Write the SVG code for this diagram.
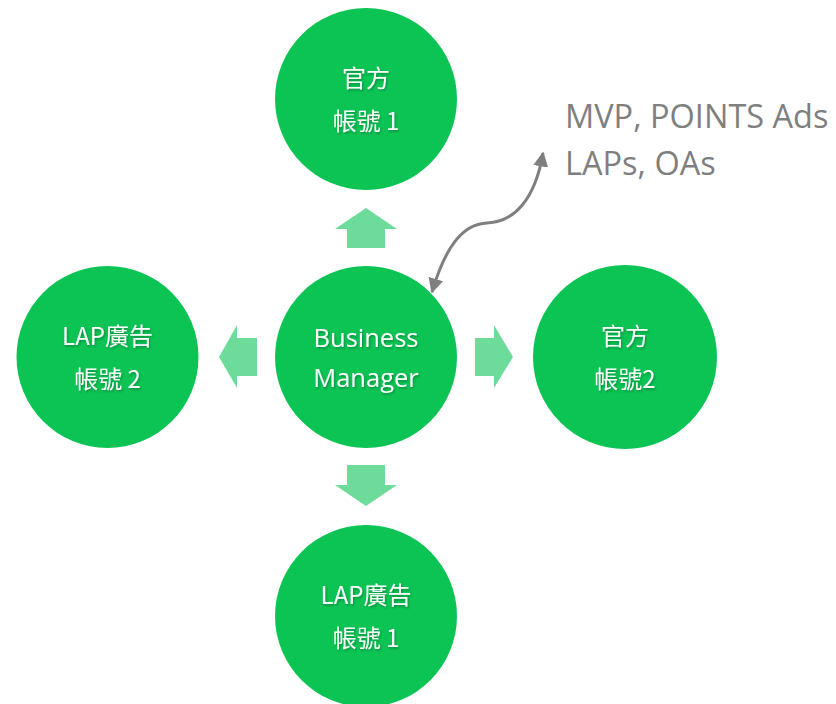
<svg xmlns="http://www.w3.org/2000/svg" width="836" height="704" viewBox="0 0 836 704">
<defs>
<style>
.node{fill:#0bc454}
.lbl{fill:#ffffff;font-family:"Noto Sans CJK TC",sans-serif;font-size:24px;font-weight:400;text-anchor:middle;filter:url(#sh)}
.en{font-family:"Open Sans",sans-serif;font-size:25.5px;font-weight:400}
.blk{fill:#6ddc9a}
.note{fill:#7f7f7f;font-family:"Open Sans","Noto Sans",sans-serif;font-size:32.5px}
.link{fill:none;stroke:#7f7f7f;stroke-width:3}
</style>
<filter id="sh" x="-10%" y="-30%" width="120%" height="160%">
<feDropShadow dx="1" dy="1.5" stdDeviation="1" flood-color="#000" flood-opacity="0.3"/>
</filter>
<marker id="ah" viewBox="0 0 10 10" refX="9" refY="5" markerWidth="5" markerHeight="5" orient="auto-start-reverse" markerUnits="strokeWidth">
<path d="M0,0 L10,5 L0,10 z" fill="#7f7f7f"/>
</marker>
</defs>
<rect width="836" height="704" fill="#ffffff"/>
<g id="connectors">
<polygon class="blk" points="366,208 397,229 385,229 385,248 347,248 347,229 335,229"/>
<polygon class="blk" points="219,357 237,325 237,338 257,338 257,376 237,376 237,388"/>
<polygon class="blk" points="513,357 494,325 494,338 475,338 475,376 494,376 494,388"/>
<polygon class="blk" points="366,506 397,485 385,485 385,465 347,465 347,485 335,485"/>
<path class="link" d="M432,292 C445,248 462,224 487,223 C514,222 535,200 543,153" marker-start="url(#ah)" marker-end="url(#ah)"/>
</g>
<g id="top">
<circle class="node" cx="366" cy="99" r="91"/>
<text class="lbl" x="366" y="87">官方</text>
<text class="lbl" x="366" y="130">帳號 1</text>
</g>
<g id="center">
<circle class="node" cx="366" cy="357" r="91"/>
<text class="lbl en" x="366" y="347">Business</text>
<text class="lbl en" x="366" y="387">Manager</text>
</g>
<g id="left">
<circle class="node" cx="107.5" cy="357" r="91"/>
<text class="lbl" x="107.5" y="345">LAP廣告</text>
<text class="lbl" x="107.5" y="388">帳號 2</text>
</g>
<g id="right">
<circle class="node" cx="625" cy="357" r="92"/>
<text class="lbl" x="625" y="345">官方</text>
<text class="lbl" x="625" y="388">帳號2</text>
</g>
<g id="bottom">
<circle class="node" cx="366" cy="616" r="91"/>
<text class="lbl" x="366" y="604">LAP廣告</text>
<text class="lbl" x="366" y="647">帳號 1</text>
</g>
<g id="note">
<text class="note" x="565" y="128">MVP, POINTS Ads</text>
<text class="note" x="565" y="175">LAPs, OAs</text>
</g>
</svg>
